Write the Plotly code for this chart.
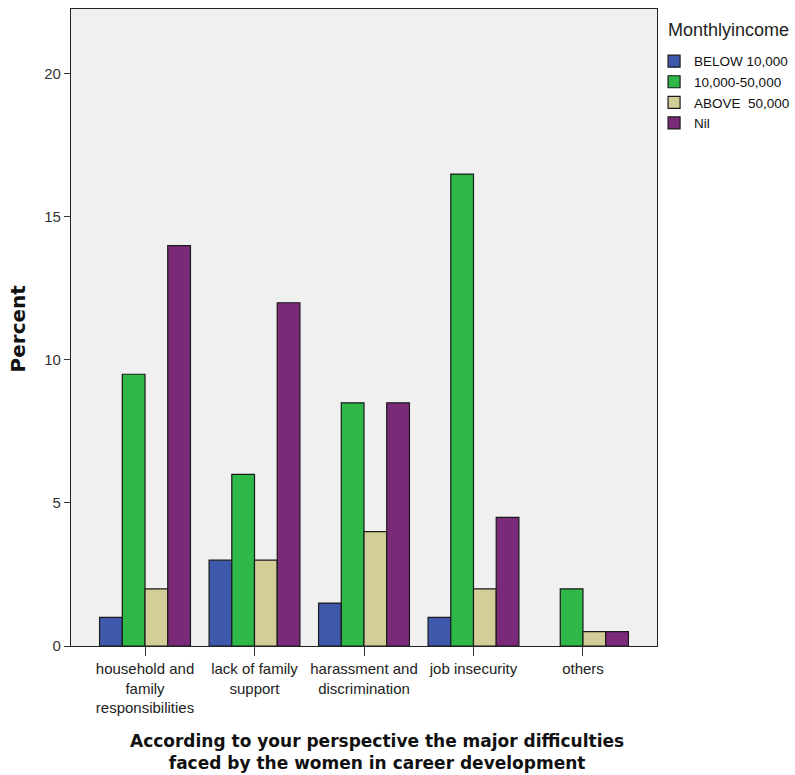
import plotly.graph_objects as go

categories = [
    "household and<br>family<br>responsibilities",
    "lack of family<br>support",
    "harassment and<br>discrimination",
    "job insecurity",
    "others",
]
series_names = ["BELOW 10,000", "10,000-50,000", "ABOVE  50,000", "Nil"]
below_10000 = [1.0, 3.0, 1.5, 1.0, None]
mid_10000_50000 = [9.5, 6.0, 8.5, 16.5, 2.0]
above_50000 = [2.0, 3.0, 4.0, 2.0, 0.5]
nil = [14.0, 12.0, 8.5, 4.5, 0.5]
colors = ["#3E58AC", "#2EB848", "#D3CE97", "#7B2A7A"]
y_ticks = [0, 5, 10, 15, 20]

font_family = "Arial, Liberation Sans, sans-serif"
bold_family = "DejaVu Sans, Verdana, sans-serif"

fig = go.Figure()
for name, vals, col in zip(series_names, [below_10000, mid_10000_50000, above_50000, nil], colors):
    fig.add_trace(go.Bar(
        x=list(range(len(categories))), y=vals, name=name,
        marker=dict(color=col, line=dict(color="#1a1a1a", width=1.2)),
    ))

fig.update_layout(
    width=795, height=775,
    margin=dict(l=71, r=138, t=9, b=129, autoexpand=False),
    paper_bgcolor="white", plot_bgcolor="#F0F0F0",
    barmode="group", bargap=0.17, bargroupgap=0,
    font=dict(family=font_family, size=13, color="#222222"),
    showlegend=True,
    legend=dict(
        x=0.995, xanchor="left", y=0.942, yanchor="top",
        font=dict(size=13.5, color="#111111"),
        bgcolor="rgba(0,0,0,0)", tracegroupgap=0, itemwidth=30,
    ),
    xaxis=dict(
        tickmode="array", tickvals=list(range(len(categories))), ticktext=categories,
        range=[-0.676, 4.676], showgrid=False, zeroline=False,
        showline=True, linecolor="#222222", linewidth=1.2, mirror=True,
        ticks="outside", ticklen=9, tickcolor="#333333",
        tickfont=dict(size=15, color="#222222"),
    ),
    yaxis=dict(
        range=[0, 22.27], tickmode="array", tickvals=y_ticks,
        showgrid=False, zeroline=False,
        showline=True, linecolor="#222222", linewidth=1.2, mirror=True,
        ticks="outside", ticklen=6, tickcolor="#333333",
        tickfont=dict(size=15, color="#333333"),
    ),
    annotations=[
        dict(text="<b>According to your perspective the major difficulties<br>faced by the women in career development</b>",
             xref="paper", yref="paper", x=0.522, y=-0.166, xanchor="center", yanchor="middle",
             showarrow=False, font=dict(family=bold_family, size=17, color="#111111")),
        dict(text="<b>Percent</b>", xref="paper", yref="paper", x=-0.09, y=0.499,
             xanchor="center", yanchor="middle", textangle=-90,
             showarrow=False, font=dict(family=bold_family, size=20, color="#111111")),
        dict(text="Monthlyincome", xref="paper", yref="paper", x=1.016, y=0.967,
             xanchor="left", yanchor="middle", showarrow=False,
             font=dict(family=font_family, size=18, color="#222222")),
    ],
)

fig.write_html(
    "out.html",
    config={"displayModeBar": False},
    post_script="document.body.style.margin='0';document.body.style.overflow='hidden';",
)
